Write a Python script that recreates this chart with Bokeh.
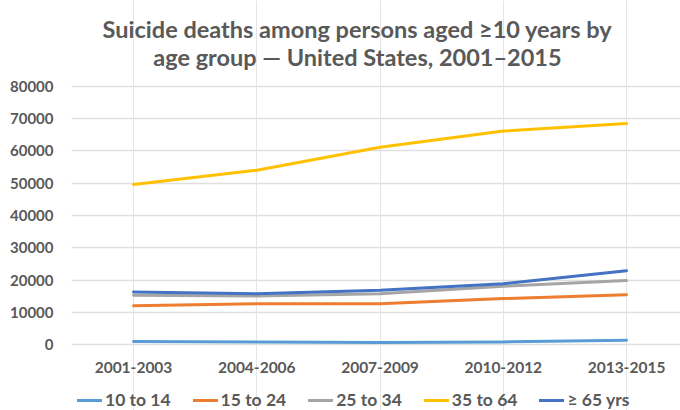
from bokeh.plotting import figure
from bokeh.models import Legend, LegendItem, FixedTicker, NumeralTickFormatter, Range1d
from bokeh.core.properties import value
from bokeh.embed import file_html
from bokeh.resources import INLINE

# ---- data ----
periods = ["2001-2003", "2004-2006", "2007-2009", "2010-2012", "2013-2015"]
age_10_14 = [1000, 900, 700, 900, 1400]
age_15_24 = [12100, 12700, 12700, 14300, 15500]
age_25_34 = [15300, 15100, 15800, 18100, 19900]
age_35_64 = [49600, 54000, 61100, 66100, 68400]
age_65_up = [16300, 15800, 16900, 18900, 22900]
series_names = ["10 to 14", "15 to 24", "25 to 34", "35 to 64", "\u2265 65 yrs"]
y_ticks = [0, 10000, 20000, 30000, 40000, 50000, 60000, 70000, 80000]
title_lines = ["Suicide deaths among persons aged \u226510 years by",
               "age group \u2014 United States, 2001\u20132015"]

# ---- styles / layout constants ----
colors = ["#5B9BD5", "#ED7D31", "#A5A5A5", "#FFC000", "#4472C4"]
TXT = "#595959"
FONT = "Lato"
Y_MIN, Y_MAX = -20317, 106471     # frame spans whole canvas height
X_MIN, X_MAX = -0.503, 4.438
LABEL_Y = -7020                  # category label row
TITLE_X = 1.817                  # title centre
TITLE_Y = [97800, 89150]         # title baselines

xs = list(range(len(periods)))

p = figure(frame_width=609, frame_height=410, output_backend="svg",
           toolbar_location=None, x_axis_location=None,
           x_range=Range1d(X_MIN, X_MAX), y_range=Range1d(Y_MIN, Y_MAX),
           min_border_left=71, min_border_right=0, min_border_top=0,
           min_border_bottom=0)
p.outline_line_color = None
p.background_fill_color = "white"
p.border_fill_color = "white"

series = [age_10_14, age_15_24, age_25_34, age_35_64, age_65_up]
renderers = []
for vals, c in zip(series, colors):
    r = p.line(x=xs, y=vals, line_color=c, line_width=3, line_join="round",
               line_cap="round")
    renderers.append(r)

# category labels (horizontal axis)
p.text(x=xs, y=[LABEL_Y] * len(xs), text=periods, text_font=value(FONT),
       text_font_style="bold", text_font_size="15.5px", text_color=TXT,
       text_align="center", text_baseline="middle")

# title
p.text(x=[TITLE_X] * len(title_lines), y=TITLE_Y, text=title_lines,
       text_font=value(FONT), text_font_style="bold", text_font_size="23.5px",
       text_color=TXT, text_align="center", text_baseline="alphabetic")

# y axis
p.yaxis.ticker = FixedTicker(ticks=y_ticks)
p.yaxis.formatter = NumeralTickFormatter(format="0")
p.yaxis.axis_line_color = None
p.yaxis.major_tick_in = 0
p.yaxis.major_tick_out = 0
p.yaxis.minor_tick_in = 0
p.yaxis.minor_tick_out = 0
p.yaxis.major_label_text_font = FONT
p.yaxis.major_label_text_font_style = "bold"
p.yaxis.major_label_text_font_size = "15px"
p.yaxis.major_label_text_color = TXT
p.yaxis.major_label_standoff = 18

p.ygrid.grid_line_color = "#E0E0E0"
p.ygrid.grid_line_width = 1.5

# legend
items = [LegendItem(label=n, renderers=[r]) for n, r in zip(series_names, renderers)]
legend = Legend(items=items, orientation="horizontal", location=(6, 0),
                spacing=22, glyph_width=25, glyph_height=18, label_standoff=3,
                padding=0, margin=0, border_line_color=None,
                background_fill_alpha=0, label_text_font=FONT,
                label_text_font_style="bold", label_text_font_size="17.5px",
                label_text_color=TXT, label_height=18)
p.add_layout(legend, "center")

open("out.html", "w").write(file_html(p, INLINE))
